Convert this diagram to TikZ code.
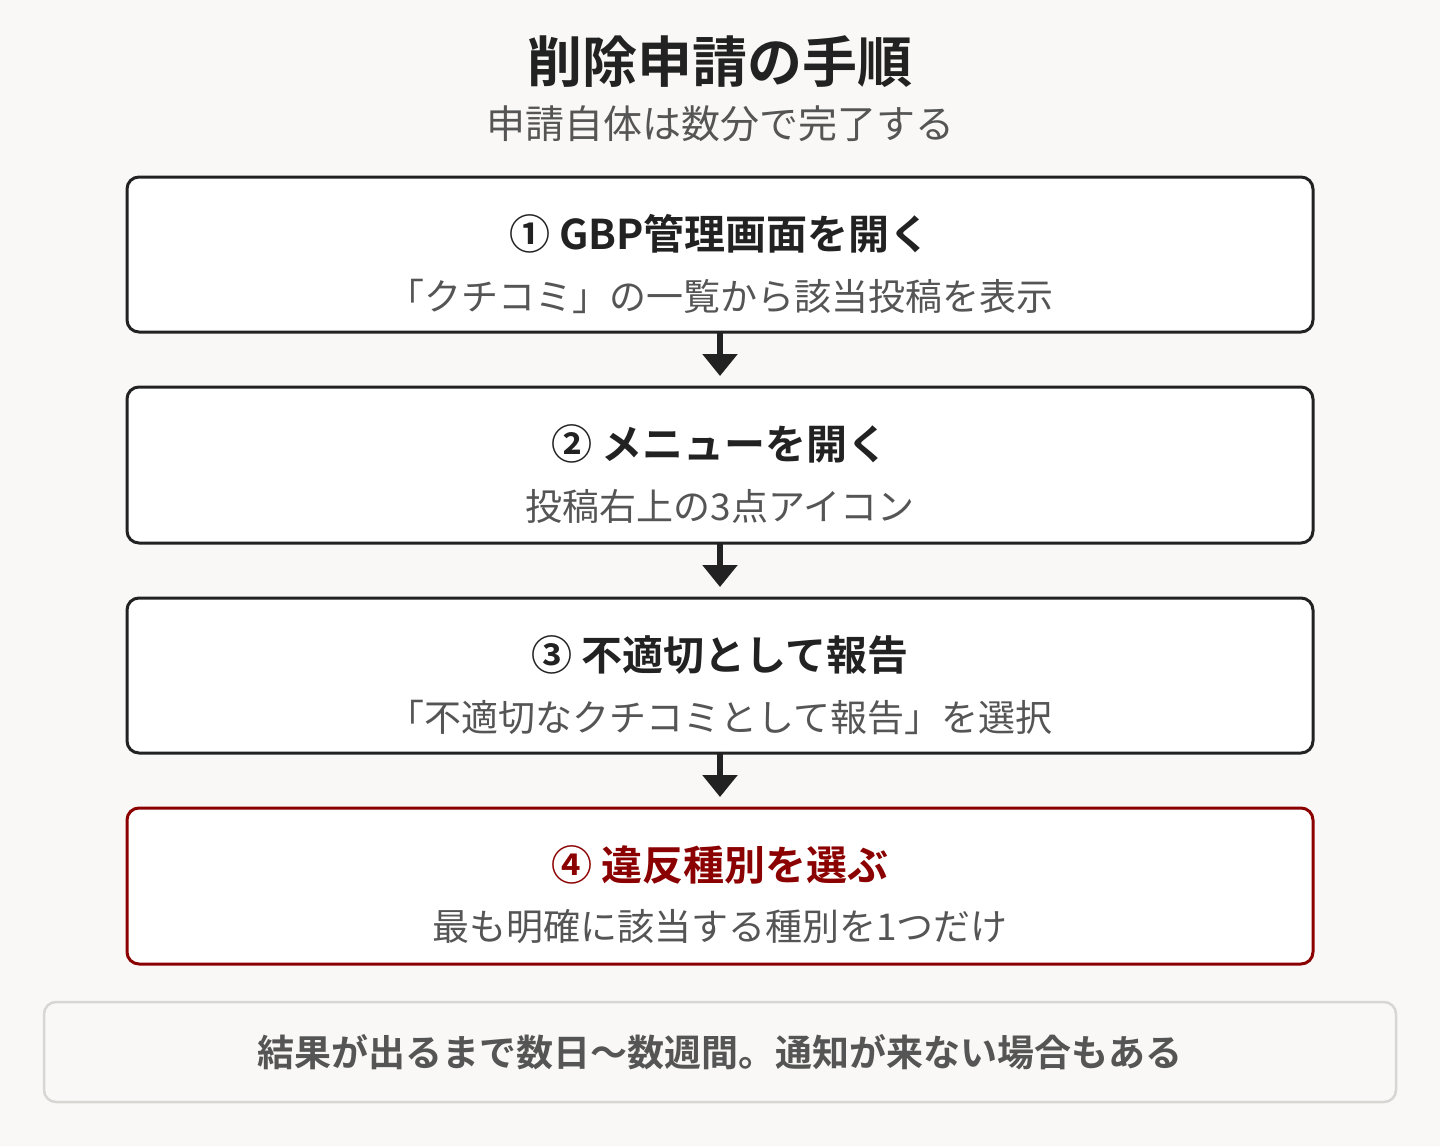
\documentclass[tikz,border=0pt]{standalone}
\usepackage{fontspec}
\setmainfont{Noto Sans CJK JP}[BoldFont={Noto Sans CJK JP Bold}]
\usetikzlibrary{arrows.meta}
\definecolor{bg}{HTML}{F9F8F6}
\definecolor{dark}{HTML}{222222}
\definecolor{gray}{HTML}{555555}
\definecolor{red}{HTML}{8B0000}
\definecolor{lightline}{HTML}{D8D6D2}
\tikzset{
  stepbox/.style={draw=dark, line width=3pt, fill=white, rounded corners=12pt},
  redbox/.style={draw=red, line width=3pt, fill=white, rounded corners=12pt},
  notebox/.style={draw=lightline, line width=2.5pt, fill=bg, rounded corners=12pt},
  head/.style={font=\fontsize{41}{45}\selectfont\bfseries, text=dark, anchor=center, inner sep=0},
  sub/.style={font=\fontsize{37}{41}\selectfont, text=gray, anchor=center, inner sep=0},
  flow/.style={draw=dark, line width=6pt, shorten >=11pt, -{Triangle[width=34pt,length=22pt]}},
}
\begin{document}
\begin{tikzpicture}[x=1pt,y=-1pt]
\fill[bg] (0,0) rectangle (1440,1146);
\useasboundingbox (0,0) rectangle (1440,1146);
\node[font=\fontsize{55}{60}\selectfont\bfseries, text=dark, inner sep=0] (title) at (720,62) {削除申請の手順};
\node[font=\fontsize{39}{43}\selectfont, text=gray, inner sep=0] (subtitle) at (720,124) {申請自体は数分で完了する};

\draw[stepbox] (127,177) rectangle (1313,332);
\coordinate (b1t) at (720,177); \coordinate (b1b) at (720,332);
\node[head] (h1) at (720,234) {① GBP管理画面を開く};
\node[sub] (s1) at (720,296) {「クチコミ」の一覧から該当投稿を表示};

\draw[stepbox] (127,387) rectangle (1313,543);
\coordinate (b2t) at (720,387); \coordinate (b2b) at (720,543);
\node[head] (h2) at (720,444) {② メニューを開く};
\node[sub] (s2) at (720,506) {投稿右上の3点アイコン};

\draw[stepbox] (127,598) rectangle (1313,753);
\coordinate (b3t) at (720,598); \coordinate (b3b) at (720,753);
\node[head] (h3) at (720,655) {③ 不適切として報告};
\node[sub] (s3) at (720,717) {「不適切なクチコミとして報告」を選択};

\draw[redbox] (127,808) rectangle (1313,964);
\coordinate (b4t) at (720,808);
\node[head, text=red] (h4) at (720,865) {④ 違反種別を選ぶ};
\node[sub] (s4) at (720,927) {最も明確に該当する種別を1つだけ};

\draw[flow] ([yshift=1.5pt]b1b) -- (b2t);
\draw[flow] ([yshift=1.5pt]b2b) -- (b3t);
\draw[flow] ([yshift=1.5pt]b3b) -- (b4t);

\draw[notebox] (44,1002) rectangle (1396,1102);
\node[font=\fontsize{37}{41}\selectfont\bfseries, text=gray, inner sep=0] (note) at (720,1052) {結果が出るまで数日〜数週間。通知が来ない場合もある};
\end{tikzpicture}
\end{document}
